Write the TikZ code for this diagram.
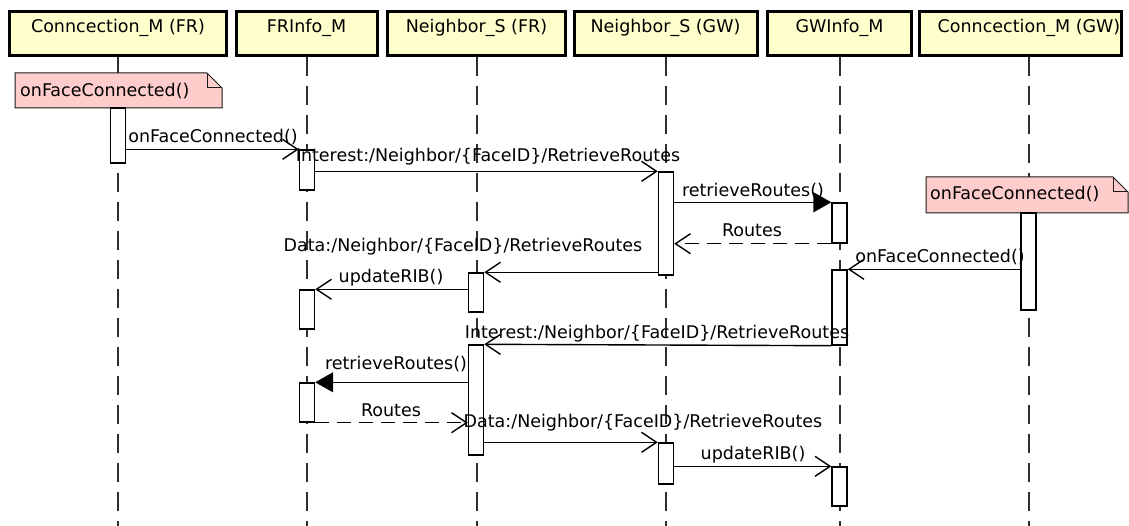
\documentclass[tikz,border=0pt]{standalone}
\usepackage{fontspec}
\setmainfont{DejaVu Sans}
\usetikzlibrary{arrows.meta}

\definecolor{headfill}{HTML}{FFFFCC}
\definecolor{notefill}{HTML}{FFCCCC}
\definecolor{lifegray}{HTML}{2E2E2E}

\tikzset{
  head/.style={draw=black, line width=3pt, fill=headfill, minimum height=44pt,
               inner sep=0pt, text height=10pt, text depth=11pt},
  act/.style={draw=black, line width=1.4pt, fill=white, minimum width=15pt, inner sep=0pt},
  lifeline/.style={draw=lifegray, line width=2pt, dash pattern=on 19pt off 10pt},
  msg/.style={draw=black, line width=1.4pt,
              -{Straight Barb[length=15pt,width=20pt,line width=1.4pt]}},
  call/.style={draw=black, line width=1.4pt, -{Triangle[length=18pt,width=20pt]}},
  reply/.style={msg, dash pattern=on 14pt off 8pt},
  lbl/.style={anchor=base, inner sep=0pt},
  notebox/.style={draw=black!90, line width=1pt, fill=notefill},
  notefold/.style={draw=black!90, line width=1pt},
  notetext/.style={anchor=base west, inner sep=0pt},
}

% activation bar: name, x, top, bottom
\newcommand{\actbox}[4]{%
  \node[act, minimum height={(#4-#3)*1pt}] (#1) at (#2,{(#3+#4)/2}) {};}

% UML note outline with folded corner: x1, y1, x2, y2
\newcommand{\umlnote}[4]{%
  \draw[notebox] (#1,#2) -- ({#3-15},#2) -- (#3,{#2+15}) -- (#3,#4) -- (#1,#4) -- cycle;
  \draw[notefold] ({#3-15},#2) -- ({#3-15},{#2+15}) -- (#3,{#2+15});}

\begin{document}
\begin{tikzpicture}[x=1pt, y=-1pt, font=\fontsize{17.5pt}{21pt}\selectfont]
  \useasboundingbox (0,0) rectangle (1129,526);
  \fill[white] (0,0) rectangle (1129,526);
  \clip (0,0) rectangle (1129,526);

  % participants
  \node[head, minimum width=217pt] (h1) at (118,33.5) {Conncection\_M (FR)};
  \node[head, minimum width=141pt] (h2) at (306.5,33.5) {FRInfo\_M};
  \node[head, minimum width=178pt] (h3) at (476.5,33.5) {Neighbor\_S (FR)};
  \node[head, minimum width=183pt] (h4) at (665.5,33.5) {Neighbor\_S (GW)};
  \node[head, minimum width=144pt] (h5) at (839.5,33.5) {GWInfo\_M};
  \node[head, minimum width=202pt] (h6) at (1020.5,33.5) {};
  \node[lbl] (h6t) at (1029,33) {Conncection\_M (GW)};

  % lifelines
  \draw[lifeline] (h1.south) -- (h1.south |- 0,526);
  \draw[lifeline] (h2.south) -- (h2.south |- 0,526);
  \draw[lifeline] (h3.south) -- (h3.south |- 0,526);
  \draw[lifeline] (h4.south) -- (h4.south |- 0,526);
  \draw[lifeline] (h5.south) -- (h5.south |- 0,526);
  \draw[lifeline] (h6t |- h6.south) -- (h6t |- 0,526);

  % notes
  \umlnote{15}{73}{222}{108}
  \node[notetext] (n1) at (20,97) {onFaceConnected()};
  \umlnote{926}{177}{1128}{213}
  \node[notetext] (n2) at (930,200) {onFaceConnected()};

  % activation bars
  \actbox{A1}{118}{108}{163}
  \actbox{A2}{307}{150}{190}
  \actbox{A3}{666}{172}{275}
  \actbox{A4}{839.5}{203}{243}
  \actbox{A5}{476}{273}{312}
  \actbox{A6}{307}{290}{329}
  \actbox{A7}{1028.5}{213}{310}
  \actbox{A8}{839.5}{270}{345}
  \actbox{A9}{476}{345}{455}
  \actbox{A10}{307}{383}{422}
  \actbox{A11}{666}{443}{484}
  \actbox{A12}{839.5}{467}{506}

  % messages
  \draw[msg]   (A1.east |- A2.north) -- (A2.north west);
  \draw[msg]   (A2.east |- A3.north) -- (A3.north west);
  \draw[call]  (A3.east |- A4.north) -- (A4.north west);
  \draw[reply] (A4.south west) -- (A3.east |- A4.south);
  \draw[msg]   (A3.west |- A5.north) -- (A5.north east);
  \draw[msg]   (A5.west |- A6.north) -- (A6.north east);
  \draw[msg]   (A7.west |- A8.north) -- (A8.north east);
  \draw[msg]   (A8.south west) -- (A9.north east);
  \draw[call]  (A9.west |- A10.north) -- (A10.north east);
  \draw[reply] (A10.south east) -- (A9.west |- A10.south);
  \draw[msg]   (A9.east |- A11.north) -- (A11.north west);
  \draw[msg]   (A11.east |- A12.north) -- (A12.north west);

  % message labels
  \node[lbl] (l1)  at (213,143) {onFaceConnected()};
  \node[lbl] (l2)  at (488,162) {Interest:/Neighbor/\{FaceID\}/RetrieveRoutes};
  \node[lbl] (l3)  at (753,197) {retrieveRoutes()};
  \node[lbl] (l4)  at (752,237) {Routes};
  \node[lbl] (l5)  at (463,252) {Data:/Neighbor/\{FaceID\}/RetrieveRoutes};
  \node[lbl] (l6)  at (391,283) {updateRIB()};
  \node[lbl] (l7)  at (940,263) {onFaceConnected()};
  \node[lbl] (l8)  at (657,338) {Interest:/Neighbor/\{FaceID\}/RetrieveRoutes};
  \node[lbl] (l9)  at (396,370) {retrieveRoutes()};
  \node[lbl] (l10) at (391,416) {Routes};
  \node[lbl] (l11) at (643,427) {Data:/Neighbor/\{FaceID\}/RetrieveRoutes};
  \node[lbl] (l12) at (753,459) {updateRIB()};
\end{tikzpicture}
\end{document}
